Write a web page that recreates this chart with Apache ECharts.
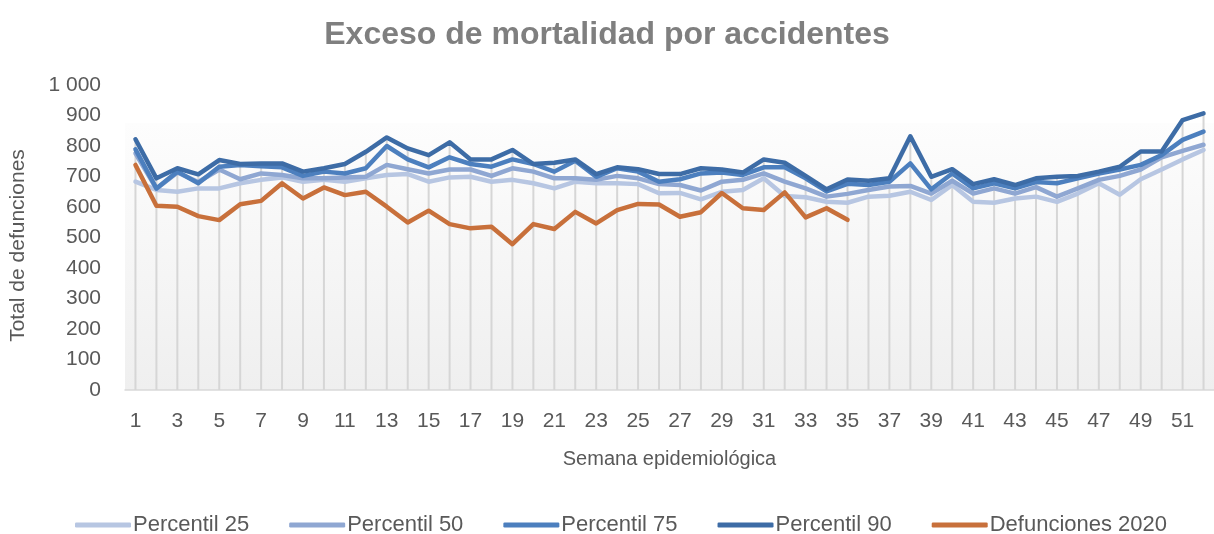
<!DOCTYPE html>
<html>
<head>
<meta charset="utf-8">
<script src="https://cdn.jsdelivr.net/npm/echarts@6/dist/echarts.min.js"></script>
<style>
  html, body { margin: 0; padding: 0; background: #ffffff; }
  #chart { width: 1214px; height: 534px; }
</style>
</head>
<body>
<div id="chart"></div>
<script>
// Semanas epidemiológicas
const weeks = ['1','2','3','4','5','6','7','8','9','10','11','12','13','14','15','16','17','18','19','20',
  '21','22','23','24','25','26','27','28','29','30','31','32','33','34','35','36','37','38','39','40',
  '41','42','43','44','45','46','47','48','49','50','51','52'];

// Percentiles históricos de defunciones por accidentes
const p25 = [683, 656, 650, 661, 661, 678, 689, 697, 683, 689, 683, 694, 705, 708, 683, 697, 699, 683, 689, 678,
  661, 683, 678, 678, 675, 645, 646, 625, 650, 656, 694, 636, 632, 617, 614, 634, 637, 650, 623, 672,
  617, 614, 628, 634, 617, 644, 678, 640, 691, 723, 756, 787];
const p50 = [776, 660, 713, 682, 723, 691, 710, 705, 694, 694, 697, 699, 738, 724, 710, 723, 723, 702, 727, 716,
  694, 694, 689, 702, 694, 675, 672, 654, 683, 689, 710, 683, 661, 634, 643, 656, 667, 669, 644, 686,
  644, 661, 644, 665, 634, 661, 689, 702, 723, 763, 784, 804];
const p75 = [789, 661, 716, 678, 732, 738, 734, 730, 702, 716, 710, 727, 800, 756, 730, 763, 741, 732, 756, 741,
  716, 752, 699, 727, 716, 683, 691, 710, 713, 705, 730, 730, 694, 651, 676, 672, 683, 743, 658, 710,
  661, 678, 661, 682, 678, 694, 710, 723, 738, 770, 820, 847];
const p90 = [822, 694, 727, 707, 754, 741, 743, 743, 716, 727, 741, 781, 828, 792, 770, 812, 756, 756, 787, 741,
  745, 756, 708, 730, 724, 708, 708, 727, 723, 713, 756, 745, 702, 658, 690, 686, 694, 832, 699, 724,
  675, 691, 672, 694, 699, 702, 716, 732, 782, 782, 885, 907];
// Defunciones observadas en 2020 (hasta la semana 35)
const def2020 = [738, 604, 601, 570, 557, 609, 620, 678, 628, 664, 639, 650, 601, 549, 588, 544, 530, 535, 478, 544,
  528, 584, 546, 590, 610, 608, 568, 583, 646, 596, 590, 648, 566, 596, 558];

const seriesNames = ['Percentil 25', 'Percentil 50', 'Percentil 75', 'Percentil 90', 'Defunciones 2020'];
const seriesColors = ['#b7c6e2', '#8fa7d2', '#4c7fbe', '#3d6ca6', '#c8703b'];
const seriesData = [p25, p50, p75, p90, def2020];

// Líneas de caída: desde el valor más alto de cada semana hasta el eje
const dropTop = weeks.map((_, i) =>
  Math.max(...seriesData.map(s => (s[i] == null ? 0 : s[i]))));

const chart = echarts.init(document.getElementById('chart'), null, { renderer: 'canvas' });

const labelFont = 'Liberation Sans, Arial, sans-serif';

const lineSeries = seriesNames.map((name, k) => ({
  name: name,
  type: 'line',
  data: seriesData[k],
  symbol: 'none',
  smooth: false,
  z: 3 + k,
  lineStyle: { color: seriesColors[k], width: 4.5, cap: 'round', join: 'round' },
  itemStyle: { color: seriesColors[k] },
  emphasis: { disabled: true }
}));

chart.setOption({
  animation: false,
  backgroundColor: '#ffffff',
  title: {
    text: 'Exceso de mortalidad por accidentes',
    left: 'center',
    top: 14,
    textStyle: { fontFamily: labelFont, fontSize: 32, fontWeight: 'bold', color: '#7f7f7f' }
  },
  legend: {
    data: seriesNames,
    bottom: -7,
    left: 70,
    icon: 'roundRect',
    itemWidth: 56,
    itemHeight: 5,
    itemGap: 40,
    textStyle: { fontFamily: labelFont, fontSize: 22, color: '#595959', padding: [0, 0, 0, -3] }
  },
  grid: {
    left: 124,
    right: -10,
    top: 85,
    bottom: 144,
    show: true,
    borderWidth: 0,
    backgroundColor: new echarts.graphic.LinearGradient(0, 0, 0, 1, [
      { offset: 0, color: '#ffffff' },
      { offset: 0.124, color: '#ffffff' },
      { offset: 0.126, color: '#fdfdfd' },
      { offset: 1, color: '#efefef' }
    ])
  },
  xAxis: {
    type: 'category',
    data: weeks,
    boundaryGap: true,
    name: 'Semana epidemiológica',
    nameLocation: 'middle',
    nameGap: 59,
    nameTextStyle: { fontFamily: labelFont, fontSize: 20, color: '#595959' },
    axisLine: { show: true, lineStyle: { color: '#d9d9d9', width: 1.5 } },
    axisTick: { show: false },
    splitLine: { show: false },
    axisLabel: { interval: 1, margin: 21, fontFamily: labelFont, fontSize: 21, color: '#595959' }
  },
  yAxis: {
    type: 'value',
    min: 0,
    max: 1000,
    interval: 100,
    name: 'Total de defunciones',
    nameLocation: 'middle',
    nameGap: 96,
    nameRotate: 90,
    nameTextStyle: { fontFamily: labelFont, fontSize: 21, color: '#595959', padding: [0, 16, 0, 0] },
    axisLine: { show: false },
    axisTick: { show: false },
    splitLine: { show: false },
    axisLabel: {
      margin: 24,
      fontFamily: labelFont,
      fontSize: 21,
      color: '#595959',
      formatter: v => String(v).replace(/\B(?=(\d{3})+(?!\d))/g, ' ')
    }
  },
  series: [
    {
      name: 'drop',
      type: 'bar',
      data: dropTop,
      barWidth: 2,
      silent: true,
      z: 1,
      itemStyle: { color: '#d6d6d6' },
      emphasis: { disabled: true }
    }
  ].concat(lineSeries)
});
</script>
</body>
</html>
